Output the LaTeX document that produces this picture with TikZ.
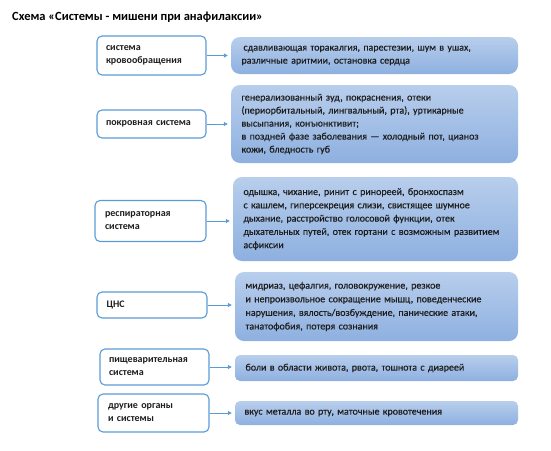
\documentclass[tikz,border=0pt]{standalone}
\usepackage{fontspec}
\setmainfont{Carlito}
\newfontfamily\medfont[FakeBold=0.5]{Carlito}
\usetikzlibrary{arrows.meta}
\definecolor{edgeblue}{RGB}{91,155,213}
\definecolor{topblue}{RGB}{184,206,236}
\definecolor{botblue}{RGB}{142,176,224}
\definecolor{txt}{RGB}{30,30,30}
\tikzset{
  lbox/.style={draw=edgeblue, line width=1.1pt, fill=white, rounded corners=5pt,
    minimum width=109pt, text width=91pt, inner xsep=9pt, inner ysep=0pt, align=left,
    font=\fontsize{10}{13}\selectfont\bfseries, text=txt},
  rbox/.style={draw=none, top color=topblue, bottom color=botblue, rounded corners=9pt,
    text width=266pt, inner xsep=10pt, inner ysep=0pt, align=left,
    font=\medfont\fontsize{10}{13}\selectfont, text=txt},
  conn/.style={draw=edgeblue, line width=0.9pt, -{Triangle[length=4pt,width=4pt]}, shorten >=3pt}
}
\begin{document}
\begin{tikzpicture}[x=1pt,y=-1pt]
\useasboundingbox (0,0) rectangle (551,450);
\node[anchor=west, font=\fontsize{12.5}{14}\selectfont\bfseries, text=black, inner sep=0pt] (title) at (12,17) {Схема «Системы - мишени при анафилаксии»};

\node[lbox, minimum height=39pt] (l1) at (151.5,55.5) {система\\кровообращения};
\node[lbox, minimum height=28pt] (l2) at (151.5,124) {покровная система};
\node[lbox, minimum height=41pt, minimum width=111pt] (l3) at (150.5,221) {респираторная\\система};
\node[lbox, minimum height=26pt, minimum width=110pt] (l4) at (152,305) {ЦНС};
\node[lbox, minimum height=36pt] (l5) at (154.5,367) {пищеварительная\\система};
\node[lbox, minimum height=38pt, minimum width=111pt] (l6) at (153.5,413) {другие органы\\и системы};

\node[rbox, minimum width=287pt, minimum height=37pt] (r1) at (374.5,55.5) {\hspace*{2pt}сдавливающая торакалгия, парестезии, шум в ушах,\\различные аритмии, остановка сердца};
\node[rbox, minimum width=287pt, minimum height=78pt] (r2) at (374.5,124) {генерализованный зуд, покраснения, отеки\\(периорбитальный, лингвальный, рта), уртикарные\\высыпания, конъюнктивит;\\в поздней фазе заболевания — холодный пот, цианоз\\кожи, бледность губ};
\node[rbox, minimum width=285pt, minimum height=84pt, text width=264pt, font=\medfont\fontsize{10}{13.3}\selectfont] (r3) at (375.5,219) {одышка, чихание, ринит с ринореей, бронхоспазм\\с кашлем, гиперсекреция слизи, свистящее шумное\\дыхание, расстройство голосовой функции, отек\\дыхательных путей, отек гортани с возможным развитием\\асфиксии};
\node[rbox, minimum width=283pt, minimum height=69pt, text width=262pt, font=\medfont\fontsize{10}{13.6}\selectfont] (r4) at (376.5,306.5) {мидриаз, цефалгия, головокружение, резкое\\и непроизвольное сокращение мышц, поведенческие\\нарушения, вялость/возбуждение, панические атаки,\\танатофобия, потеря сознания};
\node[rbox, minimum width=283pt, minimum height=26pt, text width=262pt, rounded corners=5pt] (r5) at (376.5,368) {боли в области живота, рвота, тошнота с диареей};
\node[rbox, minimum width=283pt, minimum height=24pt, text width=264pt, inner xsep=9pt, rounded corners=5pt] (r6) at (376.5,413) {вкус металла во рту, маточные кровотечения};

\draw[conn] (l1.east) -- (l1.east -| r1.west);
\draw[conn] (l2.east) -- (l2.east -| r2.west);
\draw[conn] (l3.east) -- (l3.east -| r3.west);
\draw[conn] (l4.east) -- (l4.east -| r4.west);
\draw[conn] (l5.east) -- (l5.east -| r5.west);
\draw[conn] (l6.east) -- (l6.east -| r6.west);
\end{tikzpicture}
\end{document}
